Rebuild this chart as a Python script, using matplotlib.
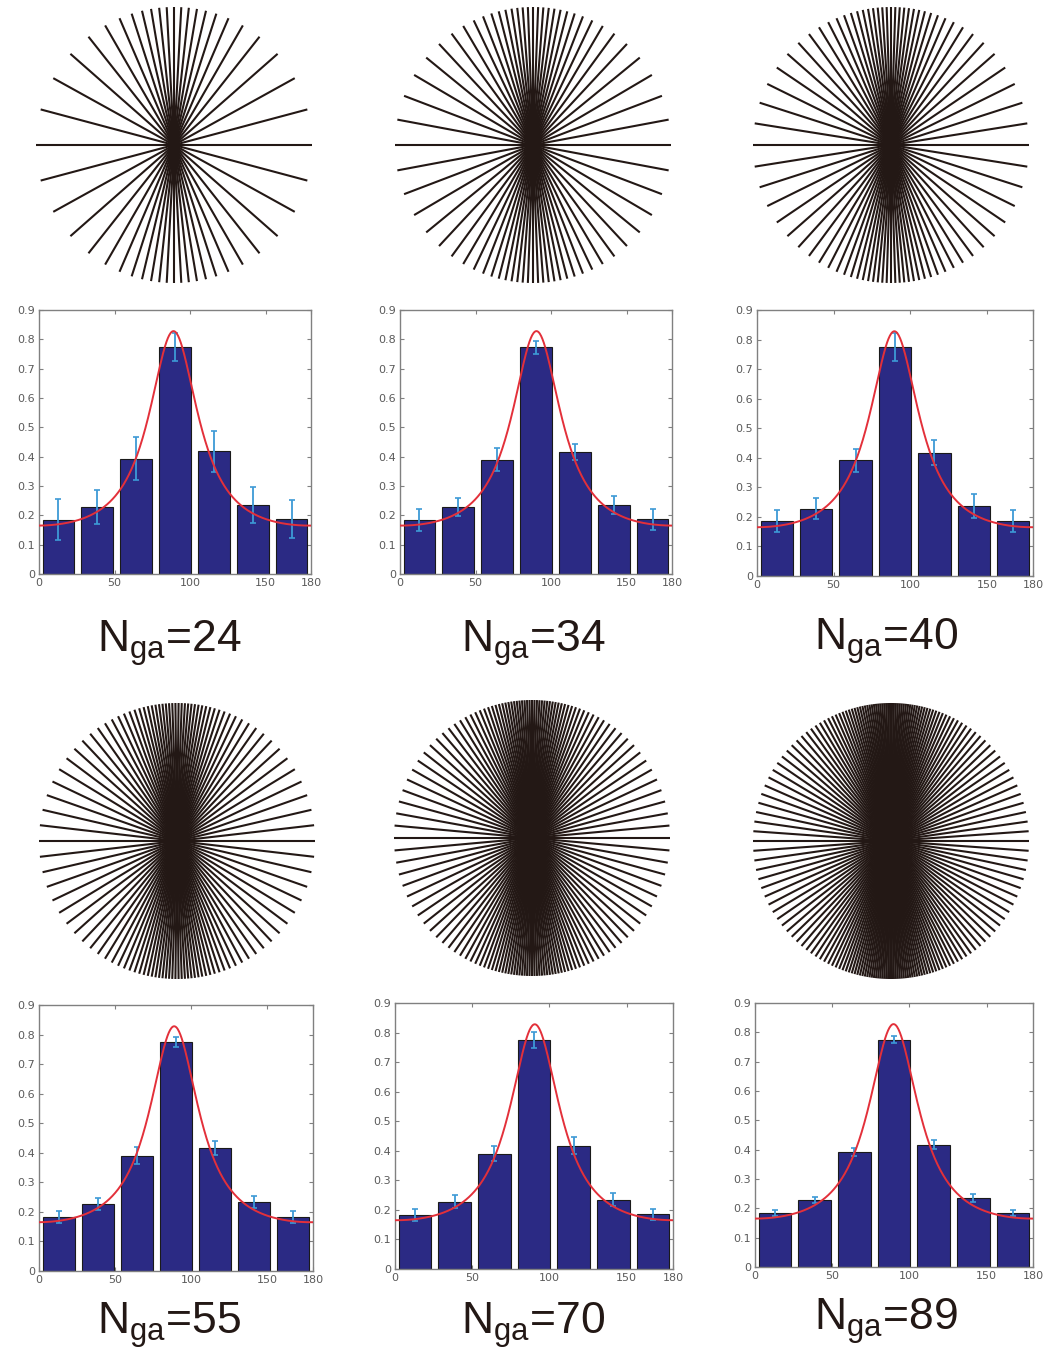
import numpy as np
import matplotlib
matplotlib.use("Agg")
import matplotlib.pyplot as plt
from matplotlib.collections import LineCollection

# ---------------- data ----------------
n_ga = [24, 34, 40, 55, 70, 89]
orient_edges = [0, 180]
n_bins = 7
bin_centers = [12.86, 38.57, 64.29, 90.0, 115.71, 141.43, 167.14]
bar_heights = [
    [0.185, 0.228, 0.393, 0.775, 0.418, 0.235, 0.187],
    [0.184, 0.228, 0.390, 0.773, 0.416, 0.235, 0.186],
    [0.185, 0.228, 0.391, 0.774, 0.417, 0.236, 0.186],
    [0.183, 0.228, 0.390, 0.775, 0.416, 0.234, 0.184],
    [0.184, 0.228, 0.390, 0.776, 0.417, 0.234, 0.185],
    [0.184, 0.228, 0.391, 0.775, 0.417, 0.234, 0.184],
]
bar_errors = [
    [0.070, 0.057, 0.073, 0.048, 0.070, 0.060, 0.065],
    [0.036, 0.030, 0.038, 0.022, 0.028, 0.032, 0.036],
    [0.037, 0.036, 0.038, 0.047, 0.043, 0.040, 0.037],
    [0.021, 0.020, 0.028, 0.018, 0.023, 0.020, 0.020],
    [0.020, 0.021, 0.025, 0.027, 0.028, 0.022, 0.019],
    [0.010, 0.011, 0.013, 0.012, 0.015, 0.014, 0.010],
]
# fitted curve: y = base + amp / (1 + kappa * sin^2(x - peak))
fit_base = 0.08
fit_amp = 0.748
fit_kappa = 7.8
fit_peak = [89.0, 90.3, 89.6, 88.8, 90.5, 89.7]
xticks = [0, 50, 100, 150, 180]
yticks = [0, 0.1, 0.2, 0.3, 0.4, 0.5, 0.6, 0.7, 0.8, 0.9]
ytick_labels = ["0", "0.1", "0.2", "0.3", "0.4", "0.5", "0.6", "0.7", "0.8", "0.9"]

# ---------------- layout (pixels) ----------------
W, H = 1044, 1351
bar_boxes = [  # left, right, top, bottom
    (39, 311, 310, 574), (400, 672, 310, 574), (757, 1033, 310, 576),
    (39, 313, 1005, 1271), (395, 673, 1003, 1269), (755, 1033, 1003, 1267),
]
star_centers = [(174, 145), (533, 145), (891, 145), (177, 841), (532, 838), (891, 841)]
star_radius = 138
label_pos = [(169, 652), (533, 652), (886, 650), (169, 1334), (533, 1334), (886, 1330)]

plt.rcParams["mathtext.fontset"] = "custom"
plt.rcParams["mathtext.rm"] = "Liberation Sans"
plt.rcParams["mathtext.it"] = "Liberation Sans"

fig = plt.figure(figsize=(W / 100, H / 100), dpi=100)
fig.patch.set_facecolor("white")


def fig_rect(l, r, t, b):
    return [l / W, 1 - b / H, (r - l) / W, (b - t) / H]


def fit_curve(x, peak):
    s = np.sin(np.radians(x - peak))
    return fit_base + fit_amp / (1 + fit_kappa * s ** 2)


bar_w = 0.82 * (orient_edges[1] - orient_edges[0]) / n_bins
spine_col = "#808080"
tick_col = "#5a5a5a"

for i in range(6):
    # ---- star of lines ----
    cx, cy = star_centers[i]
    pad = 3
    ax_s = fig.add_axes(fig_rect(cx - star_radius - pad, cx + star_radius + pad,
                                 cy - star_radius - pad, cy + star_radius + pad))
    lim = 1 + pad / star_radius
    ax_s.set_xlim(-lim, lim)
    ax_s.set_ylim(-lim, lim)
    ax_s.axis("off")
    # orientations distributed according to the fitted orientation density
    grid = np.linspace(0, 180, 3601)
    dens = fit_curve(grid, 90.0)
    cdf = np.concatenate([[0], np.cumsum((dens[1:] + dens[:-1]) / 2 * np.diff(grid))])
    cdf /= cdf[-1]
    q = np.arange(n_ga[i]) / n_ga[i]
    angles = np.radians(np.interp(q, cdf, grid))
    segs = [[(-np.cos(a), -np.sin(a)), (np.cos(a), np.sin(a))] for a in angles]
    ax_s.add_collection(LineCollection(segs, colors="#231815", linewidths=1.5,
                                       capstyle="butt"))

    # ---- bar chart ----
    l, r, t, b = bar_boxes[i]
    ax = fig.add_axes(fig_rect(l, r, t, b))
    ax.bar(bin_centers, bar_heights[i], width=bar_w, color="#2b2a84",
           edgecolor="#1a1a1a", linewidth=0.8, zorder=2)
    ax.errorbar(bin_centers, bar_heights[i], yerr=bar_errors[i], fmt="none",
                ecolor="#3d9ad6", elinewidth=1.3, capsize=2.2, capthick=1.2, zorder=3)
    xx = np.linspace(0, 180, 400)
    ax.plot(xx, fit_curve(xx, fit_peak[i]), color="#e3303a", lw=1.4, zorder=4)
    ax.set_xlim(0, 180)
    ax.set_ylim(0, 0.9)
    ax.set_xticks(xticks)
    ax.set_xticklabels([str(v) for v in xticks])
    ax.set_yticks(yticks)
    ax.set_yticklabels(ytick_labels)
    ax.tick_params(direction="in", length=3, width=0.8, color=spine_col,
                   labelcolor=tick_col, labelsize=8, top=True, right=True, pad=3)
    for sp in ax.spines.values():
        sp.set_color(spine_col)
        sp.set_linewidth(1.0)

    # ---- label ----
    lx, ly = label_pos[i]
    fig.text(lx / W, 1 - ly / H, r"$\mathrm{N_{ga}}$=" + str(n_ga[i]),
             ha="center", va="baseline", fontsize=32, family="Liberation Sans",
             color="#231815")

fig.savefig("out.png", dpi=100, facecolor="white")
